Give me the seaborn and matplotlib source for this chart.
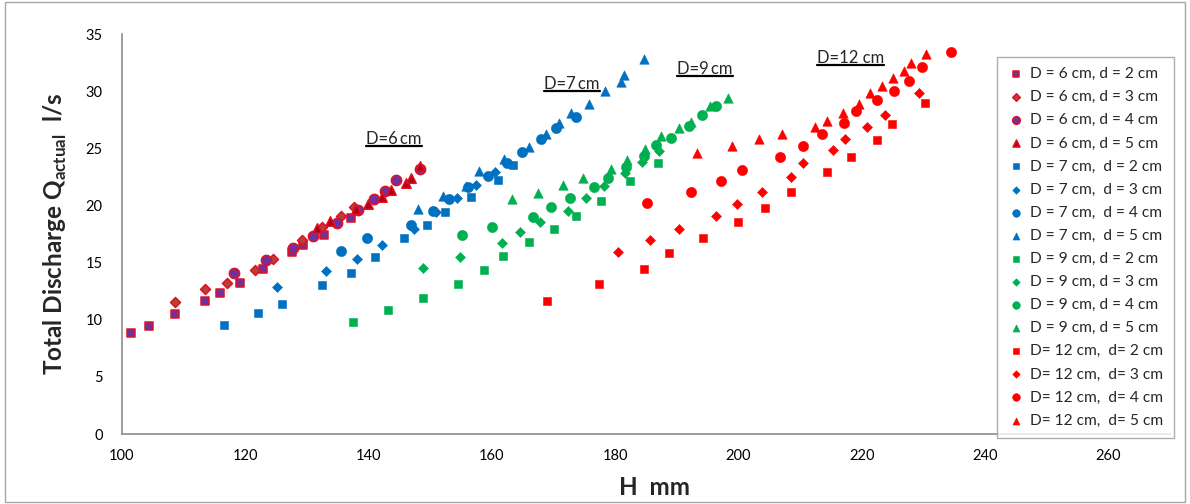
import matplotlib
matplotlib.use("Agg")
import matplotlib.pyplot as plt
import seaborn as sns
import pandas as pd
from matplotlib.lines import Line2D
from matplotlib.patches import Rectangle

# ---- measured head H (mm) and total discharge Q (l/s) -------------------
# D = 6 cm
h_d6_2 = [101.5, 104.3, 108.6, 113.5, 115.9, 119.1, 122.9, 127.5, 129.3, 132.8, 137.1]
q_d6_2 = [8.82, 9.41, 10.46, 11.63, 12.34, 13.25, 14.42, 15.95, 16.5, 17.44, 18.94]
h_d6_3 = [108.6, 113.5, 117.1, 121.6, 124.5, 129.2, 132.4, 135.6, 137.7]
q_d6_3 = [11.58, 12.66, 13.25, 14.36, 15.33, 16.97, 18.09, 19.11, 19.84]
h_d6_4 = [118.1, 123.3, 127.8, 131.0, 134.8, 138.3, 140.9, 142.6, 144.4, 148.4]
q_d6_4 = [14.13, 15.24, 16.24, 17.29, 18.44, 19.58, 20.55, 21.28, 22.19, 23.22]
h_d6_5 = [131.6, 133.7, 138.0, 139.9, 142.1, 143.7, 146.0, 146.9, 148.3]
q_d6_5 = [18.0, 18.64, 19.73, 20.14, 20.78, 21.37, 21.95, 22.39, 23.48]

# D = 7 cm
h_d7_2 = [116.6, 122.0, 126.0, 132.4, 137.1, 141.1, 145.7, 149.4, 152.4, 156.6, 161.0, 163.5]
q_d7_2 = [9.55, 10.58, 11.4, 13.04, 14.1, 15.48, 17.12, 18.26, 19.44, 20.72, 22.22, 23.51]
h_d7_3 = [125.1, 133.1, 138.1, 142.2, 147.4, 150.9, 154.3, 157.4, 160.5]
q_d7_3 = [12.9, 14.27, 15.3, 16.5, 17.97, 19.44, 20.67, 21.75, 22.92]
h_d7_4 = [135.6, 139.8, 146.8, 150.4, 153.0, 156.2, 159.3, 162.5, 164.9, 167.9, 170.4, 173.6]
q_d7_4 = [16.0, 17.12, 18.29, 19.55, 20.52, 21.6, 22.58, 23.69, 24.69, 25.8, 26.74, 27.76]
h_d7_5 = [148.0, 152.0, 155.8, 157.9, 161.9, 166.0, 168.8, 170.9, 172.9, 175.7, 178.4, 181.0, 181.4, 184.6]
q_d7_5 = [19.73, 20.81, 21.7, 23.05, 24.1, 25.15, 26.24, 27.18, 28.08, 28.87, 29.99, 30.78, 31.45, 32.83]

# D = 9 cm
h_d9_2 = [137.5, 143.2, 148.9, 154.5, 158.8, 161.8, 166.1, 170.0, 173.6, 177.7, 182.4, 186.9]
q_d9_2 = [9.79, 10.82, 11.87, 13.16, 14.34, 15.59, 16.77, 17.94, 19.08, 20.37, 22.13, 23.75]
h_d9_3 = [148.9, 154.9, 161.7, 164.6, 167.8, 172.3, 175.2, 178.2, 181.6, 184.4, 187.1]
q_d9_3 = [14.54, 15.53, 16.74, 17.71, 18.53, 19.55, 20.61, 21.7, 22.8, 23.83, 24.78]
h_d9_4 = [155.2, 160.1, 166.7, 169.6, 172.7, 176.5, 178.9, 181.7, 184.6, 186.6, 189.0, 191.9, 194.1, 196.3]
q_d9_4 = [17.38, 18.14, 19.02, 19.88, 20.63, 21.64, 22.43, 23.39, 24.33, 25.27, 25.94, 26.97, 27.91, 28.73]
h_d9_5 = [163.2, 167.5, 171.6, 174.8, 179.3, 181.9, 184.9, 187.4, 190.4, 192.3, 195.4, 198.3]
q_d9_5 = [20.52, 21.11, 21.75, 22.37, 23.22, 23.95, 24.92, 26.06, 26.76, 27.26, 28.73, 29.4]

# D = 12 cm
h_d12_2 = [168.9, 177.3, 184.7, 188.8, 194.2, 200.0, 204.3, 208.6, 214.3, 218.2, 222.5, 224.9, 230.3]
q_d12_2 = [11.63, 13.16, 14.42, 15.8, 17.12, 18.52, 19.75, 21.17, 22.93, 24.21, 25.73, 27.12, 28.99]
h_d12_3 = [180.4, 185.6, 190.3, 196.4, 199.8, 203.8, 208.5, 210.5, 215.4, 217.3, 220.9, 223.7, 229.3]
q_d12_3 = [15.92, 17.0, 17.97, 19.11, 20.11, 21.17, 22.45, 23.69, 24.83, 25.8, 26.89, 27.91, 29.84]
h_d12_4 = [185.1, 192.3, 197.2, 200.6, 206.7, 210.4, 213.5, 217.1, 219.1, 222.4, 225.2, 227.7, 229.8, 234.4]
q_d12_4 = [20.23, 21.17, 22.16, 23.1, 24.21, 25.24, 26.24, 27.18, 28.29, 29.26, 29.99, 30.92, 32.1, 33.45]
h_d12_5 = [193.3, 199.0, 203.3, 207.0, 212.4, 214.3, 216.9, 219.6, 221.4, 223.3, 225.1, 226.9, 228.0, 230.5]
q_d12_5 = [24.63, 25.21, 25.8, 26.24, 26.89, 27.42, 28.08, 28.87, 29.87, 30.46, 31.16, 31.75, 32.45, 33.21]

series_labels = [
    "D = 6 cm, d = 2 cm", "D = 6 cm, d = 3 cm", "D = 6 cm, d = 4 cm", "D = 6 cm, d = 5 cm",
    "D = 7 cm,  d = 2 cm", "D = 7 cm,  d = 3 cm", "D = 7 cm,  d = 4 cm", "D = 7 cm,  d = 5 cm",
    "D = 9 cm, d = 2 cm", "D = 9 cm, d = 3 cm", "D = 9 cm, d = 4 cm", "D = 9 cm, d = 5 cm",
    "D= 12 cm,  d= 2 cm", "D= 12 cm,  d= 3 cm", "D= 12 cm,  d= 4 cm", "D= 12 cm,  d= 5 cm",
]
series_h = [h_d6_2, h_d6_3, h_d6_4, h_d6_5, h_d7_2, h_d7_3, h_d7_4, h_d7_5,
            h_d9_2, h_d9_3, h_d9_4, h_d9_5, h_d12_2, h_d12_3, h_d12_4, h_d12_5]
series_q = [q_d6_2, q_d6_3, q_d6_4, q_d6_5, q_d7_2, q_d7_3, q_d7_4, q_d7_5,
            q_d9_2, q_d9_3, q_d9_4, q_d9_5, q_d12_2, q_d12_3, q_d12_4, q_d12_5]

group_labels = ["D=6\u2009cm", "D=7\u2009cm", "D=9\u2009cm", "D=12 cm"]
group_label_pos = [(144.1, 25.8), (173.0, 30.64), (194.6, 31.9), (218.2, 32.9)]

x_ticks = [100, 120, 140, 160, 180, 200, 220, 240, 260]
y_ticks = [0, 5, 10, 15, 20, 25, 30, 35]

# ---- marker style per orifice size (square, diamond, circle, triangle) ----
markers = ["s", "D", "o", "^"]
sizes = [34, 26, 54, 46]
d6_faces = ["#7030A0", "#B5413C", "#7030A0", "#B0001E"]
d6_edge = "#E3101E"
group_colors = ["#0070C0", "#00B050", "#FF0000"]

frames = []
for i, (lab, h, q) in enumerate(zip(series_labels, series_h, series_q)):
    frames.append(pd.DataFrame({"H": h, "Q": q, "series": lab, "idx": i}))
data = pd.concat(frames, ignore_index=True)

sns.set_style("white")
plt.rcParams["font.family"] = ["Lato", "DejaVu Sans"]
plt.rcParams["mathtext.fontset"] = "custom"
plt.rcParams["mathtext.rm"] = "Lato"
plt.rcParams["mathtext.bf"] = "Lato:bold"

fig = plt.figure(figsize=(11.9, 5.04), dpi=100)
ax = fig.add_axes([122 / 1190, 70 / 504, 1048 / 1190, 400 / 504])

for i, lab in enumerate(series_labels):
    g, k = divmod(i, 4)
    sub = data[data["series"] == lab]
    if g == 0:
        face, edge, lw = d6_faces[k], d6_edge, 1.1
    else:
        face = edge = group_colors[g - 1]
        lw = 0.4
    sns.scatterplot(data=sub, x="H", y="Q", ax=ax, marker=markers[k], s=sizes[k],
                    color=face, edgecolor=edge, linewidth=lw, label=lab, zorder=3)

ax.set_xlim(100, 270)
ax.set_ylim(0, 35)
ax.set_xticks(x_ticks)
ax.set_yticks(y_ticks)
ax.tick_params(axis="both", which="major", direction="out", length=5, width=1,
               color="#8C8C8C", labelsize=10.5, labelcolor="#000000")
ax.tick_params(axis="x", pad=6)
ax.tick_params(axis="y", pad=9)
for side in ["top", "right"]:
    ax.spines[side].set_visible(False)
for side in ["left", "bottom"]:
    ax.spines[side].set_color("#8C8C8C")
    ax.spines[side].set_linewidth(1.2)

ax.set_xlabel("H  mm", fontsize=17.5, fontweight="bold")
ax.xaxis.set_label_coords(0.508, -0.105)
ax.set_ylabel(r"Total Discharge Q$_{\mathbf{actual}}$  l/s", fontsize=17.5,
              fontweight="bold", labelpad=12)

leg = ax.legend(loc="upper left", bbox_to_anchor=(997 / 1190, 1 - 57 / 504),
                bbox_transform=fig.transFigure, borderaxespad=0, fontsize=11.2,
                frameon=True, fancybox=False, edgecolor="#9A9A9A",
                labelspacing=0.585, handletextpad=0.3, handlelength=1.2,
                borderpad=0.65, markerscale=0.75)
leg.get_frame().set_linewidth(1.0)

# group captions, underlined
texts = []
for lab, (hx, qy) in zip(group_labels, group_label_pos):
    texts.append(ax.text(hx, qy, lab, fontsize=12, ha="center", va="center", zorder=4))
fig.canvas.draw()
inv = fig.transFigure.inverted()
for t in texts:
    bb = t.get_window_extent()
    (x0, y0), (x1, _) = inv.transform([(bb.x0, bb.y0 + 1), (bb.x1, bb.y0 + 1)])
    fig.add_artist(Line2D([x0, x1], [y0, y0], color="black", lw=1.6))

# chart area border
fig.add_artist(Rectangle((5 / 1190, 2 / 504), 1180 / 1190, 500 / 504,
                         transform=fig.transFigure, fill=False,
                         edgecolor="#A6A6A6", lw=1.0))

fig.savefig("out.png", dpi=100)
